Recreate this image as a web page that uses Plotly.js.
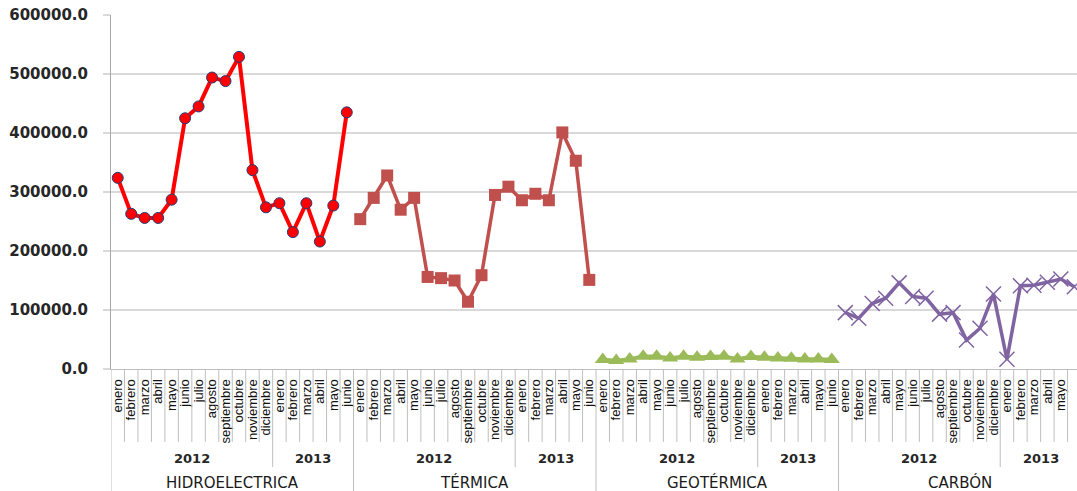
<!DOCTYPE html>
<html>
<head>
<meta charset="utf-8">
<script src="https://cdn.plot.ly/plotly-3.0.1.min.js"></script>
<style>
  html, body { margin: 0; padding: 0; background: #fff; }
  #chart { width: 1077px; height: 491px; }
</style>
</head>
<body>
<div id="chart"></div>
<script>
// Month labels per year within each generation type
const months2012 = ['enero','febrero','marzo','abril','mayo','junio','julio','agosto','septiembre','octubre','noviembre','diciembre'];
const months2013 = ['enero','febrero','marzo','abril','mayo','junio'];
const years = ['2012', '2013'];
const types = ['HIDROELECTRICA', 'TÉRMICA', 'GEOTÉRMICA', 'CARBÓN'];

// Monthly generation per type (enero 2012 – junio 2013)
const hidroelectrica = [324000, 263000, 256000, 256000, 287000, 425000, 445000, 494000, 488000, 529000, 337000, 274000,
                        281000, 232000, 281000, 216000, 277000, 435000];
const termica        = [254000, 290000, 328000, 270000, 290000, 156000, 154000, 150000, 114000, 159000, 295000, 309000,
                        286000, 297000, 286000, 401000, 353000, 151000];
const geotermica     = [16000, 14300, 17100, 21600, 21600, 18800, 21600, 20000, 21000, 21600, 17100, 21000,
                        20000, 18800, 18300, 17100, 17100, 16000];
const carbon         = [95500, 86000, 111000, 120000, 146000, 123000, 120000, 93000, 95500, 49000, 69000, 127000,
                        16400, 141000, 142000, 147000, 152500, 139500];

const monthLabels = months2012.concat(months2013);
const perGroup = monthLabels.length;
const series = [hidroelectrica, termica, geotermica, carbon];

const styles = [
  { color: '#ff0000', width: 4, marker: { symbol: 'circle', size: 11, color: '#ff0000', line: { color: '#1f3f7a', width: 1 } } },
  { color: '#c0504d', width: 3.5, marker: { symbol: 'square', size: 12, color: '#c0504d', line: { width: 0 } } },
  { color: '#9bbb59', width: 3.5, marker: { symbol: 'triangle-up', size: 14, color: '#9bbb59', line: { width: 0 } } },
  { color: '#8064a2', width: 3.5, marker: { symbol: 'x-thin-open', size: 15, color: '#8064a2', line: { color: '#8064a2', width: 1.5 } } }
];

const traces = series.map((vals, g) => ({
  type: 'scatter',
  mode: 'lines+markers',
  name: types[g],
  x: vals.map((_, i) => g * perGroup + i),
  y: vals,
  line: { color: styles[g].color, width: styles[g].width },
  marker: styles[g].marker,
  cliponaxis: false,
  hoverinfo: 'y'
}));

// Tick labels across all groups
const tickvals = [];
const ticktext = [];
types.forEach((_, g) => monthLabels.forEach((m, i) => { tickvals.push(g * perGroup + i); ticktext.push(m); }));

// Category dividers under the axis: month, year and type boundaries
const shapes = [];
const lineColor = '#bfbfbf';
const yMonth = -0.206, yYear = -0.277, yType = -0.36;
for (let k = 0; k <= types.length * perGroup; k++) {
  const pos = k % perGroup;
  let y1 = yMonth;
  if (pos === 0) y1 = yType;
  else if (pos === months2012.length) y1 = yYear;
  shapes.push({ type: 'line', xref: 'x', yref: 'paper', x0: k - 0.5, x1: k - 0.5, y0: 0, y1: y1,
                line: { color: lineColor, width: 1 } });
}

// Year and type labels
const annotations = [];
const yearFont = { family: 'DejaVu Sans', size: 13, color: '#262626', weight: 'bold' };
types.forEach((t, g) => {
  const start = g * perGroup;
  annotations.push({ xref: 'x', yref: 'paper', x: start + (months2012.length - 1) / 2, y: -0.254, text: years[0],
                     showarrow: false, yanchor: 'middle', font: yearFont });
  annotations.push({ xref: 'x', yref: 'paper', x: start + months2012.length + (months2013.length - 1) / 2, y: -0.254, text: years[1],
                     showarrow: false, yanchor: 'middle', font: yearFont });
  annotations.push({ xref: 'x', yref: 'paper', x: start + (perGroup - 1) / 2, y: -0.322, text: t,
                     showarrow: false, yanchor: 'middle', font: { family: 'DejaVu Sans', size: 15, color: '#1a1a1a' } });
});

const layout = {
  width: 1077,
  height: 491,
  margin: { l: 111, r: 0, t: 15, b: 122 },
  paper_bgcolor: '#ffffff',
  plot_bgcolor: '#ffffff',
  showlegend: false,
  xaxis: {
    range: [-0.5, 71.2],
    tickmode: 'array',
    tickvals: tickvals,
    ticktext: ticktext,
    tickangle: -90,
    ticks: '',
    ticklabelstandoff: 4,
    tickfont: { family: 'Liberation Sans', size: 13, color: '#111111' },
    showgrid: false,
    zeroline: false,
    showline: true,
    linecolor: lineColor,
    linewidth: 1,
    fixedrange: true
  },
  yaxis: {
    range: [0, 600000],
    dtick: 100000,
    tick0: 0,
    tickformat: '.1f',
    ticks: 'outside',
    ticklen: 7,
    tickcolor: '#d9d9d9',
    tickwidth: 2,
    ticklabelstandoff: 12,
    tickfont: { family: 'DejaVu Sans', size: 15, color: '#262626', weight: 'bold' },
    gridcolor: '#d9d9d9',
    gridwidth: 2,
    zeroline: false,
    showline: true,
    linecolor: '#a6a6a6',
    linewidth: 1,
    fixedrange: true
  },
  shapes: shapes,
  annotations: annotations
};

Plotly.newPlot('chart', traces, layout, { displayModeBar: false, staticPlot: true });
</script>
</body>
</html>
